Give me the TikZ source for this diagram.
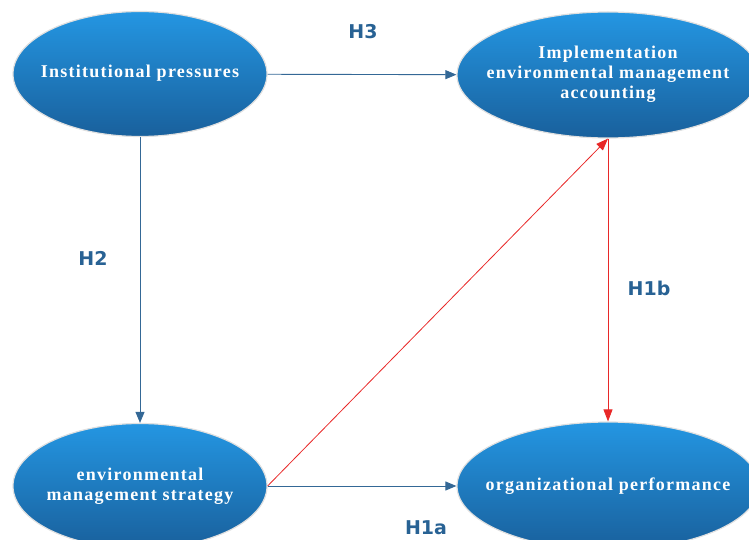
\documentclass[tikz,border=0pt]{standalone}
\usepackage{fontspec}
\setmainfont{Liberation Serif}
\newfontfamily\labelfont{DejaVu Sans}
\newfontfamily\ovalfont[LetterSpace=7]{Liberation Serif}
\usetikzlibrary{shapes.geometric,arrows.meta}
\definecolor{ovaltop}{RGB}{36,150,226}
\definecolor{ovalbottom}{RGB}{25,96,156}
\definecolor{linkblue}{RGB}{52,104,150}
\definecolor{hyplabel}{RGB}{40,98,148}
\definecolor{linkred}{RGB}{232,40,40}
% centred text block that does not widen the oval around it
\newcommand{\ovaltext}[1]{\makebox[0pt]{\begin{tabular}{@{}c@{}}#1\end{tabular}}}
\tikzset{
  oval/.style={ellipse, inner sep=0pt, top color=ovaltop, bottom color=ovalbottom,
    draw=black!12, line width=1.2pt, text=white,
    font=\ovalfont\bfseries\fontsize{18}{20}\selectfont},
  bluelink/.style={draw=linkblue, line width=0.9pt,
    -{Triangle[length=11pt,width=9pt]}},
  redlink/.style={draw=linkred, line width=0.8pt,
    -{Triangle[length=12pt,width=9pt]}},
  hyp/.style={text=hyplabel, font=\labelfont\bfseries\fontsize{19}{22}\selectfont}
}
\begin{document}
\begin{tikzpicture}[x=1pt,y=-1pt]
  \useasboundingbox (0,0) rectangle (749,540);
  \clip (0,0) rectangle (749,540);
  % constructs
  \node[oval, minimum width=254pt, minimum height=125pt] (ip) at (140,74)
    {\raisebox{-3pt}{\ovaltext{Institutional pressures}}};
  \node[oval, minimum width=302pt, minimum height=126pt] (iema) at (608,75)
    {\ovaltext{Implementation\\environmental management\\accounting}};
  \node[oval, minimum width=254pt, minimum height=125pt] (ems) at (140,486)
    {\ovaltext{environmental\\management strategy}};
  \node[oval, minimum width=302pt, minimum height=128pt] (op) at (608,486)
    {\ovaltext{organizational performance}};
  % hypothesised paths
  \draw[bluelink] (ip) -- (iema);
  \draw[bluelink] (ip) -- (ems);
  \draw[bluelink] (ems) -- (op);
  \draw[redlink] (ems.east) -- (iema.south);
  \draw[redlink] (iema) -- (op);
  % hypothesis labels
  \node[hyp] (h3) at (363,32) {H3};
  \node[hyp] (h2) at (93,258) {H2};
  \node[hyp] (h1b) at (649,288) {H1b};
  \node[hyp] (h1a) at (426,528) {H1a};
\end{tikzpicture}
\end{document}
